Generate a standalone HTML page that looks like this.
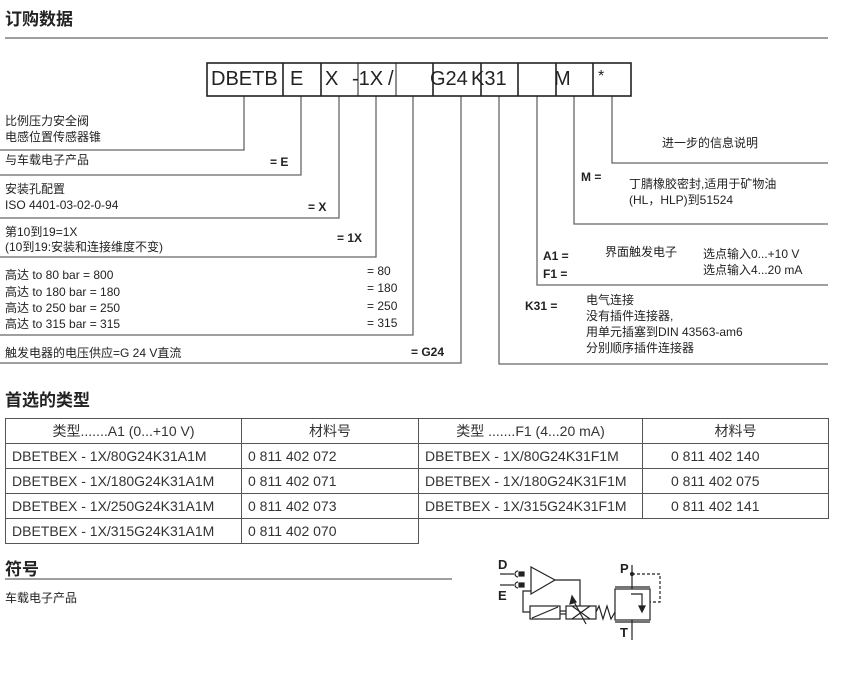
<!DOCTYPE html>
<html><head><meta charset="utf-8">
<style>
html,body{margin:0;padding:0;background:#fff;}
body{width:860px;height:678px;position:relative;overflow:hidden;font-family:"Liberation Sans","Noto Sans CJK SC",sans-serif;color:#222;}
.t{position:absolute;white-space:nowrap;font-size:12px;line-height:14px;}
.b{font-weight:bold;}
.h{position:absolute;font-size:17px;font-weight:bold;white-space:nowrap;}
.code{position:absolute;font-size:20px;line-height:22px;white-space:nowrap;top:68px;}
table{position:absolute;left:5px;top:418px;border-collapse:collapse;font-size:14px;table-layout:fixed;width:823px;}
td{border:1px solid #555;height:24px;padding:0 0 0 6px;white-space:nowrap;overflow:hidden;color:#333;}
</style></head><body>
<div class="h" style="left:5px;top:5px;">订购数据</div>
<svg width="860" height="678" style="position:absolute;left:0;top:0" fill="none">
<g stroke="#666" stroke-width="1.3">
<line x1="5" y1="38" x2="828" y2="38"/>
<polyline points="244,96 244,150 0,150"/>
<polyline points="301,96 301,175 0,175"/>
<polyline points="339,96 339,218 0,218"/>
<polyline points="376,96 376,257 0,257"/>
<polyline points="413,96 413,335 0,335"/>
<polyline points="461,96 461,363 0,363"/>
<polyline points="499,96 499,364 828,364"/>
<polyline points="537,96 537,285 828,285"/>
<polyline points="574,96 574,224 828,224"/>
<polyline points="612,96 612,163 828,163"/>
<line x1="5" y1="579" x2="452" y2="579"/>
</g>
<g stroke="#222" stroke-width="1.6">
<rect x="207" y="63" width="424" height="33"/>
<line x1="283" y1="63" x2="283" y2="96"/>
<line x1="321" y1="63" x2="321" y2="96"/>
<line x1="358" y1="63" x2="358" y2="96" stroke-width="1"/>
<line x1="396" y1="63" x2="396" y2="96" stroke-width="1"/>
<line x1="433" y1="63" x2="433" y2="96"/>
<line x1="481" y1="63" x2="481" y2="96"/>
<line x1="518" y1="63" x2="518" y2="96"/>
<line x1="556" y1="63" x2="556" y2="96"/>
<line x1="593" y1="63" x2="593" y2="96"/>
</g>
<g stroke="#222" stroke-width="1.2">
<line x1="500" y1="574" x2="514" y2="574"/>
<line x1="500" y1="585" x2="514" y2="585"/>
<path d="M518,571 a3,3 0 0,0 0,6 M518,582 a3,3 0 0,0 0,6"/>
<rect x="519" y="572" width="5" height="4" fill="#222"/>
<rect x="519" y="583" width="5" height="4" fill="#222"/>
<polygon points="531,567 531,594 555,580"/>
<polyline points="555,580 580,580 580,606"/>
<polyline points="531,591 523,591 523,612 530,612"/>
<rect x="530" y="606" width="30" height="13"/>
<line x1="532" y1="618" x2="558" y2="607"/>
<line x1="560" y1="611" x2="566" y2="611"/><line x1="560" y1="614" x2="566" y2="614"/>
<rect x="566" y="606" width="30" height="13"/>
<line x1="572" y1="606" x2="590" y2="619"/><line x1="572" y1="619" x2="590" y2="606"/>
<line x1="586" y1="624" x2="572" y2="598"/>
<polygon points="572,596 570,604 576,602" fill="#222"/>
<polyline points="596,612 599,606 603,619 607,606 611,619 615,612"/>
<rect x="615" y="589" width="35" height="31"/>
<line x1="615" y1="587" x2="650" y2="587"/><line x1="615" y1="622" x2="650" y2="622"/>
<line x1="632" y1="565" x2="632" y2="589"/>
<line x1="632" y1="620" x2="632" y2="640"/>
<polyline points="631,594 642,594 642,608"/>
<polygon points="639,606 645,606 642,612" fill="#222"/>
<circle cx="632" cy="574" r="1.5" fill="#222"/>
<polyline points="632,574 660,574 660,602 650,602" stroke-dasharray="3,2"/>
</g>
</svg>
<div class="code" style="left:211px;">DBETB</div>
<div class="code" style="left:290px;">E</div>
<div class="code" style="left:325px;">X</div>
<div class="code" style="left:352px;">-1X</div>
<div class="code" style="left:388px;">/</div>
<div class="code" style="left:430px;">G24</div>
<div class="code" style="left:471px;">K31</div>
<div class="code" style="left:554px;">M</div>
<div class="code" style="left:598px;top:66px;font-size:16px;">*</div>

<div class="t" style="left:5px;top:114px;">比例压力安全阀</div>
<div class="t" style="left:5px;top:130px;">电感位置传感器锥</div>
<div class="t" style="left:5px;top:153px;">与车载电子产品</div>
<div class="t b" style="left:270px;top:155px;">= E</div>
<div class="t" style="left:5px;top:182px;">安装孔配置</div>
<div class="t" style="left:5px;top:198px;">ISO 4401-03-02-0-94</div>
<div class="t b" style="left:308px;top:200px;">= X</div>
<div class="t" style="left:5px;top:225px;">第10到19=1X</div>
<div class="t" style="left:5px;top:240px;">(10到19:安装和连接维度不变)</div>
<div class="t b" style="left:337px;top:231px;">= 1X</div>
<div class="t" style="left:5px;top:268px;">高达 to 80 bar = 800</div>
<div class="t" style="left:5px;top:285px;">高达 to 180 bar = 180</div>
<div class="t" style="left:5px;top:301px;">高达 to 250 bar = 250</div>
<div class="t" style="left:5px;top:317px;">高达 to 315 bar = 315</div>
<div class="t" style="left:367px;top:264px;">= 80</div>
<div class="t" style="left:367px;top:281px;">= 180</div>
<div class="t" style="left:367px;top:299px;">= 250</div>
<div class="t" style="left:367px;top:316px;">= 315</div>
<div class="t" style="left:5px;top:346px;">触发电器的电压供应=G 24 V直流</div>
<div class="t b" style="left:411px;top:345px;">= G24</div>

<div class="t" style="left:662px;top:136px;">进一步的信息说明</div>
<div class="t b" style="left:581px;top:170px;">M =</div>
<div class="t" style="left:629px;top:177px;">丁腈橡胶密封,适用于矿物油</div>
<div class="t" style="left:629px;top:193px;">(HL，HLP)到51524</div>
<div class="t b" style="left:543px;top:249px;">A1 =</div>
<div class="t b" style="left:543px;top:267px;">F1 =</div>
<div class="t" style="left:605px;top:245px;">界面触发电子</div>
<div class="t" style="left:703px;top:247px;">选点输入0...+10 V</div>
<div class="t" style="left:703px;top:263px;">选点输入4...20 mA</div>
<div class="t b" style="left:525px;top:299px;">K31 =</div>
<div class="t" style="left:586px;top:293px;">电气连接</div>
<div class="t" style="left:586px;top:309px;">没有插件连接器,</div>
<div class="t" style="left:586px;top:325px;">用单元插塞到DIN 43563-am6</div>
<div class="t" style="left:586px;top:341px;">分别顺序插件连接器</div>

<div class="h" style="left:5px;top:386px;">首选的类型</div>
<table>
<colgroup><col style="width:236px"><col style="width:177px"><col style="width:224px"><col style="width:186px"></colgroup>
<tr><td style="text-align:center;padding:0">类型.......A1 (0...+10 V)</td><td style="text-align:center;padding:0">材料号</td><td style="text-align:center;padding:0">类型 .......F1 (4...20 mA)</td><td style="text-align:center;padding:0">材料号</td></tr>
<tr><td>DBETBEX - 1X/80G24K31A1M</td><td>0 811 402 072</td><td>DBETBEX - 1X/80G24K31F1M</td><td style="padding-left:28px">0 811 402 140</td></tr>
<tr><td>DBETBEX - 1X/180G24K31A1M</td><td>0 811 402 071</td><td>DBETBEX - 1X/180G24K31F1M</td><td style="padding-left:28px">0 811 402 075</td></tr>
<tr><td>DBETBEX - 1X/250G24K31A1M</td><td>0 811 402 073</td><td>DBETBEX - 1X/315G24K31F1M</td><td style="padding-left:28px">0 811 402 141</td></tr>
<tr><td>DBETBEX - 1X/315G24K31A1M</td><td>0 811 402 070</td><td style="border:none"></td><td style="border:none"></td></tr>
</table>

<div class="h" style="left:5px;top:555px;">符号</div>
<div class="t" style="left:5px;top:591px;">车载电子产品</div>
<div class="t b" style="left:498px;top:558px;font-size:13px;">D</div>
<div class="t b" style="left:498px;top:589px;font-size:13px;">E</div>
<div class="t b" style="left:620px;top:562px;font-size:13px;">P</div>
<div class="t b" style="left:620px;top:626px;font-size:13px;">T</div>
</body></html>
